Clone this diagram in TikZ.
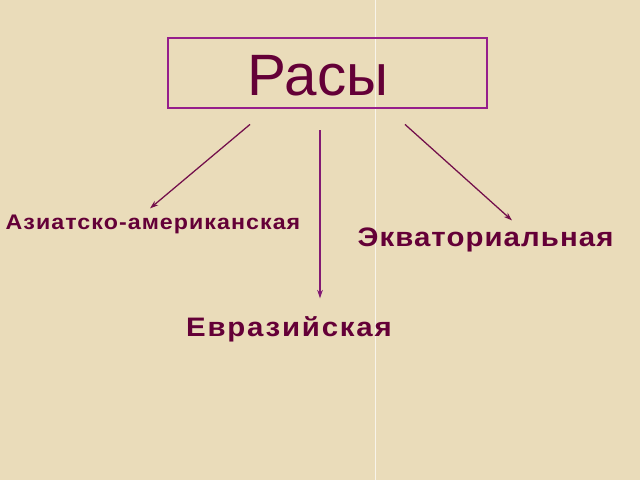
\documentclass[tikz,border=0pt]{standalone}
\usepackage{fontspec}
\setmainfont{Liberation Sans}
\usetikzlibrary{arrows.meta, positioning}
\definecolor{bgbeige}{RGB}{234,220,186}
\definecolor{framepurple}{RGB}{150,30,140}
\definecolor{textmaroon}{RGB}{100,0,55}
\definecolor{arrowmaroon}{RGB}{115,15,75}
\definecolor{arrowpurple}{RGB}{130,25,115}
\begin{document}
\begin{tikzpicture}[
      x=0.025cm, y=-0.025cm,
      frame/.style={draw=framepurple, line width=1.5pt, minimum width=7.975cm, minimum height=1.75cm},
      title/.style={text=textmaroon, inner sep=0pt, anchor=base, font=\fontsize{41.5}{48}\selectfont},
      race/.style={text=textmaroon, inner sep=0pt, anchor=base},
      arr/.style={-{Stealth[length=6pt, width=4pt]}, arrowmaroon, line width=0.9pt}
    ]
      % Background
      \fill[bgbeige] (0,0) rectangle (640,480);
      \draw[white, opacity=0.7, line width=0.6pt] (375,0) -- (375,480);

      % Title box
      \node[frame] (racesbox) at (327.5,73) {};
      \node[title] (races) at (318,95) {Расы};

      % Race labels
      \node[race, font=\bfseries\fontsize{15}{18}\selectfont\addfontfeature{FakeStretch=1.1, LetterSpace=5}] (asian) at (153,229) {Азиатско-американская};
      \node[race, font=\bfseries\fontsize{19}{22}\selectfont\addfontfeature{FakeStretch=1.1, LetterSpace=4}] (equat) at (485.5,246) {Экваториальная};
      \node[race, font=\bfseries\fontsize{19}{22}\selectfont\addfontfeature{FakeStretch=1.1, LetterSpace=6.7}] (eurasian) at (289,336) {Евразийская};

      % Arrow ends
      \coordinate (lstart) at (250,124);
      \coordinate (lend) at (150,208);
      \coordinate (mstart) at (320,130);
      \coordinate (mend) at (320,298);
      \coordinate (rstart) at (405,124);
      \coordinate (rend) at (512,220);

      % Arrows
      \draw[arr] (lstart) -- (lend);
      \draw[arr, arrowpurple] (mstart) -- (mend);
      \draw[arr] (rstart) -- (rend);
    \end{tikzpicture}
\end{document}
